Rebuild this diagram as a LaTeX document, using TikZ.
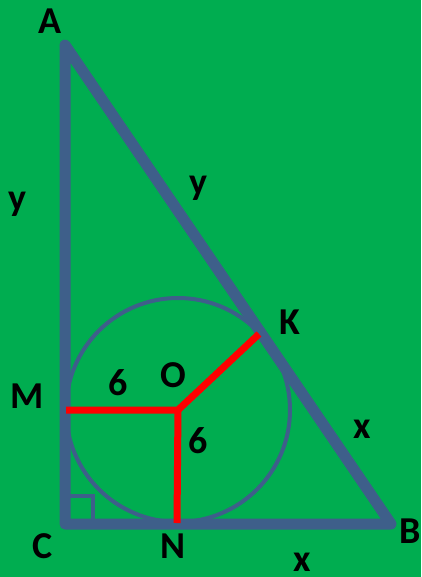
\documentclass[tikz,border=0pt]{standalone}
\usepackage{fontspec}
\setmainfont{Carlito}
\usetikzlibrary{calc}
\definecolor{bggreen}{HTML}{00AD50}
\definecolor{triblue}{HTML}{3E5F8A}
\definecolor{radred}{HTML}{FF0000}

\begin{document}
\begin{tikzpicture}[x=1pt,y=-1pt,
    side/.style={triblue,line width=11pt,line join=round,line cap=round},
    radius/.style={radred,line width=7pt},
    lbl/.style={font=\fontsize{38}{44}\selectfont\bfseries,inner sep=0pt}]
  % background
  \fill[bggreen] (0,0) rectangle (421,577);
  \useasboundingbox (0,0) rectangle (421,577);
  % points
  \coordinate (A) at (65,45);
  \coordinate (C) at (65,524);
  \coordinate (B) at (391,524);
  \coordinate (O) at (178,410);
  \coordinate (M) at (66,410);
  \coordinate (N) at (177,523);
  \coordinate (K) at (259,334);
  % incircle
  \draw[triblue,line width=4pt] (O) circle (112);
  % triangle
  \draw[side] (A) -- (C) -- (B) -- cycle;
  % right angle
  \draw[triblue,line width=3.5pt] ($(C)+(0,-28)$) -- ++(28,0) -- ++(0,28);
  % radii
  \draw[radius] (M) -- (O) -- (K);
  \draw[radius] ($(O)+(0,-2)$) -- (N);
  % labels
  \node[lbl] (lA) at (50,21) {A};
  \node[lbl] (lB) at (410,531) {B};
  \node[lbl] (lC) at (43,546) {C};
  \node[lbl] (lK) at (290,322) {K};
  \node[lbl] (lM) at (27,396) {M};
  \node[lbl] (lN) at (173,546) {N};
  \node[lbl] (lO) at (173,375) {O};
  \node[lbl] (r1) at (118,383) {6};
  \node[lbl] (r2) at (198,441) {6};
  \node[lbl] (yAC) at (17,204) {y};
  \node[lbl] (yAK) at (198,188) {y};
  \node[lbl] (xKB) at (362,429) {x};
  \node[lbl] (xNB) at (302,562) {x};
\end{tikzpicture}
\end{document}
